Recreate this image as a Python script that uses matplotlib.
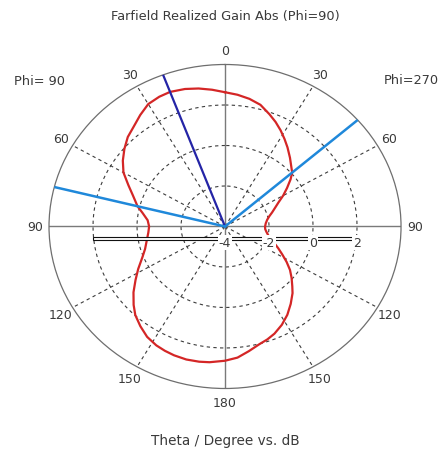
import numpy as np
import matplotlib
matplotlib.use("Agg")
import matplotlib.pyplot as plt
from matplotlib.patches import Rectangle

plt.rcParams['font.family'] = ['DejaVu Sans']

# Farfield cut Phi=90: theta 0..180 (left half of the plot), gain in dB
theta_phi90 = [0, 5, 10, 15, 20.6, 25, 30, 35, 40, 45, 50, 55, 60, 65, 70, 75.9, 80, 85,
               90, 95, 100, 107, 112, 118, 123, 128, 133, 137, 142, 147, 152, 156, 160,
               165, 170, 174, 180]
gain_phi90 = [2.63, 2.78, 2.92, 3.03, 3.1, 3.07, 2.98, 2.72, 2.45, 2.25, 1.97, 1.67, 1.33,
              0.85, 0.45, 0.1, -0.2, -0.47, -0.55, -0.5, -0.4, -0.2, 0.05, 0.47, 0.85, 1.28,
              1.68, 1.98, 2.25, 2.5, 2.65, 2.72, 2.77, 2.8, 2.78, 2.74, 2.63]

# Farfield cut Phi=270: theta 0..180 (right half of the plot), gain in dB
theta_phi270 = [0, 5, 10, 15, 20, 24, 28, 32, 36, 41, 45, 48.9, 52, 56, 60, 64, 68, 72,
                76, 80, 85, 90, 94, 98, 102, 106, 110, 114, 118, 122, 126, 130, 134, 137,
                142, 147, 152, 157, 161, 165, 170, 175, 180]
gain_phi270 = [2.63, 2.53, 2.40, 2.22, 1.9, 1.65, 1.38, 1.1, 0.83, 0.5, 0.25, 0.05, -0.22,
               -0.6, -0.95, -1.3, -1.55, -1.75, -1.93, -2.05, -2.14, -2.18, -2.17, -2.1,
               -2.0, -1.85, -1.62, -1.35, -1.05, -0.7, -0.35, -0.05, 0.25, 0.5, 0.85, 1.2,
               1.5, 1.75, 1.9, 2.02, 2.25, 2.5, 2.63]

# Main lobe direction and 3 dB beamwidth limits (theta, degrees)
main_lobe_theta = 20.6          # Phi=90 side
beam_edge_phi90 = 75.9          # Phi=90 side
beam_edge_phi270 = 48.9         # Phi=270 side

angle_ticks = [0, 30, 60, 90, 120, 150, 180, 210, 240, 270, 300, 330]
angle_labels = ['0', '30', '60', '90', '120', '150', '180', '150', '120', '90', '60', '30']
r_min, r_max = -4, 4
r_rings = [-2, 0, 2]
scale_labels = [-4, -2, 0, 2]

grey_txt = '#3a3a3a'
rect = [0.1119, 0.1383, 0.8037, 0.7168]

fig = plt.figure(figsize=(4.38, 4.52), dpi=100)
ax = fig.add_axes(rect, projection='polar')
ax.set_aspect('auto')
ax.set_theta_zero_location('N')
ax.set_theta_direction(1)
ax.set_ylim(r_min, r_max)
ax.grid(False)
ax.set_yticks([])
ax.set_xticks(np.deg2rad(angle_ticks))
ax.set_xticklabels(angle_labels, fontsize=9, color=grey_txt)
ax.tick_params(axis='x', length=0, pad=3)
ax.spines['polar'].set_color('#6e6e6e')
ax.spines['polar'].set_linewidth(0.9)

# dashed level rings
ring_t = np.linspace(0, 2 * np.pi, 721)
for r in r_rings:
    ax.plot(ring_t, np.full_like(ring_t, r), color='#3c3c3c', lw=0.8,
            ls=(0, (3, 3)), zorder=1)

# radial spokes
for a in angle_ticks:
    t = np.deg2rad(a)
    if a % 90 == 0:
        ax.plot([t, t], [r_min, r_max], color='#7a7a7a', lw=1.0, zorder=1)
    else:
        ax.plot([t, t], [r_min, r_max], color='#3c3c3c', lw=0.8,
                ls=(0, (3, 3)), zorder=1)

# gain pattern, left half then right half back to the top
curve_t = np.concatenate([np.deg2rad(theta_phi90),
                          np.deg2rad(360 - np.array(theta_phi270[::-1]))])
curve_r = np.concatenate([gain_phi90, gain_phi270[::-1]])
ax.plot(curve_t, curve_r, color='#d42626', lw=1.6, zorder=4, solid_joinstyle='round')

# main lobe and 3 dB lines
ax.plot([np.deg2rad(main_lobe_theta)] * 2, [r_min, r_max], color='#2424a6', lw=1.6, zorder=5)
ax.plot([np.deg2rad(beam_edge_phi90)] * 2, [r_min, r_max], color='#1f88da', lw=1.8, zorder=5)
ax.plot([np.deg2rad(360 - beam_edge_phi270)] * 2, [r_min, r_max], color='#1f88da', lw=1.8, zorder=5)

# dB scale bar along the horizontal axis
span = scale_labels[-1] - r_min
ax2 = fig.add_axes(rect)
ax2.set_xlim(-(r_max - r_min), r_max - r_min)
ax2.set_ylim(-(r_max - r_min), r_max - r_min)
ax2.axis('off')
ax2.add_patch(Rectangle((-span, -0.65), 2 * span, 0.12,
                        fc='white', ec='#111111', lw=0.8, zorder=2))
for v in scale_labels:
    ax2.text(v - r_min, -0.78, str(v), ha='center', va='center', fontsize=9, color=grey_txt,
             bbox=dict(fc='white', ec='none', pad=0.6), zorder=3)

fig.text(225 / 438, 1 - 16.5 / 452, 'Farfield Realized Gain Abs (Phi=90)', ha='center',
         va='center', fontsize=9.3, color=grey_txt)
fig.text(40 / 438, 1 - 82 / 452, 'Phi= 90', ha='center', va='center', fontsize=9.3, color=grey_txt)
fig.text(411 / 438, 1 - 81 / 452, 'Phi=270', ha='center', va='center', fontsize=9.3, color=grey_txt)
fig.text(225 / 438, 1 - 441 / 452, 'Theta / Degree vs. dB', ha='center', va='center',
         fontsize=9.8, color=grey_txt)

fig.savefig('out.png', dpi=100, facecolor='white')
